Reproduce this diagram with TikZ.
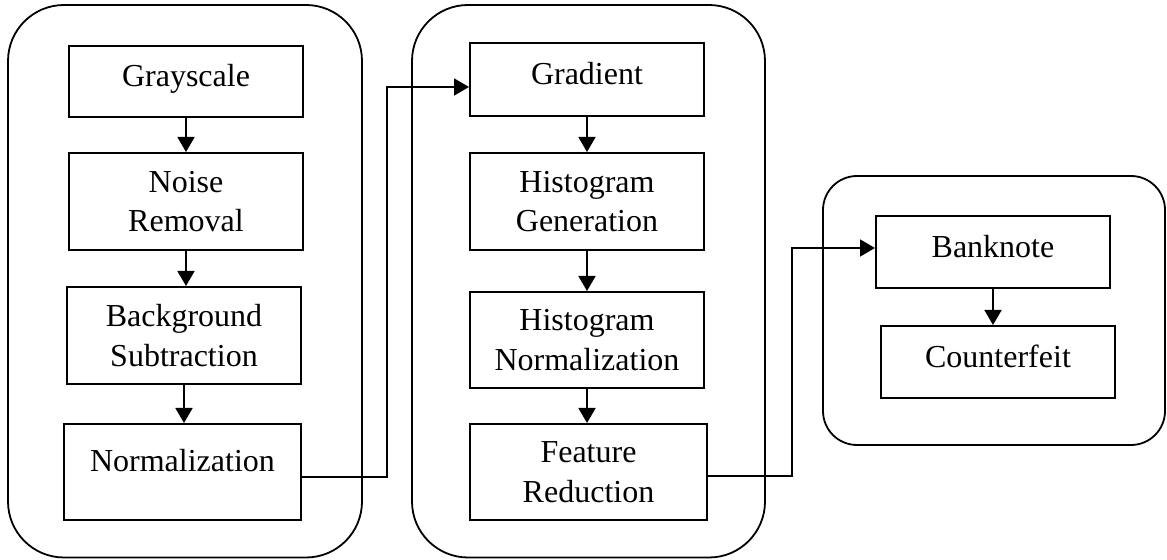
\documentclass[tikz,border=0pt]{standalone}
\usepackage{fontspec}
\setmainfont{Liberation Serif}
\usetikzlibrary{arrows.meta}
\begin{document}
\begin{tikzpicture}[x=0.5pt,y=-0.5pt,
  box/.style={draw,line width=1pt,rectangle,inner sep=0pt,align=center,
    font=\fontsize{16}{19.8}\selectfont},
  onebox/.style={box,text height=10pt,text depth=4.6pt},
  container/.style={draw,line width=0.9pt},
  arr/.style={line width=0.85pt,-{Triangle[width=8.5pt,length=7.5pt]}},
  link/.style={line width=0.85pt,-{Triangle[width=8.5pt,length=7.5pt]}}]
\useasboundingbox (0,0) rectangle (1167,560);
% containers
\draw[container,rounded corners=28pt] (8,5) rectangle (362,557.5);
\draw[container,rounded corners=28pt] (412,5) rectangle (765,557.5);
\draw[container,rounded corners=17pt] (823,176) rectangle (1165,445);
% column 1
\node[onebox,minimum width=117pt,minimum height=35.5pt] (gray) at (186,81.5) {Grayscale};
\node[box,minimum width=117pt,minimum height=48.5pt] (noise) at (186,201.5) {Noise\\Removal};
\node[box,minimum width=117pt,minimum height=48.5pt] (bg) at (184,335.5) {Background\\Subtraction};
\node[box,text height=8pt,text depth=8pt,minimum width=118.5pt,minimum height=48pt] (norm) at (182.5,472) {Normalization};
% column 2
\node[onebox,minimum width=117pt,minimum height=36.5pt] (grad) at (587,79.5) {Gradient};
\node[box,minimum width=117pt,minimum height=48.5pt] (hgen) at (587,201.5) {Histogram\\Generation};
\node[box,minimum width=117pt,minimum height=48pt] (hnorm) at (587,340) {Histogram\\Normalization};
\node[box,minimum width=118.5pt,minimum height=48pt] (feat) at (588.5,472) {Feature\\Reduction};
% column 3
\node[onebox,minimum width=117pt,minimum height=36pt] (bank) at (993,252) {Banknote};
\node[onebox,minimum width=117pt,minimum height=36pt] (count) at (998,362) {Counterfeit};
% arrows inside
\draw[arr] (gray.south) -- (gray.south |- noise.north);
\draw[arr] (noise.south) -- (noise.south |- bg.north);
\draw[arr] (bg.south) -- (bg.south |- norm.north);
\draw[arr] (grad.south) -- (grad.south |- hgen.north);
\draw[arr] (hgen.south) -- (hgen.south |- hnorm.north);
\draw[arr] (hnorm.south) -- (hnorm.south |- feat.north);
\draw[arr] (bank.south) -- (bank.south |- count.north);
% links between groups
\draw[link] ([yshift=-2.5pt]norm.east) -- ++(85,0) |- ([yshift=-3.75pt]grad.west);
\draw[link] ([yshift=-2pt]feat.east) -- ++(84,0) |- ([yshift=2pt]bank.west);
\end{tikzpicture}
\end{document}
